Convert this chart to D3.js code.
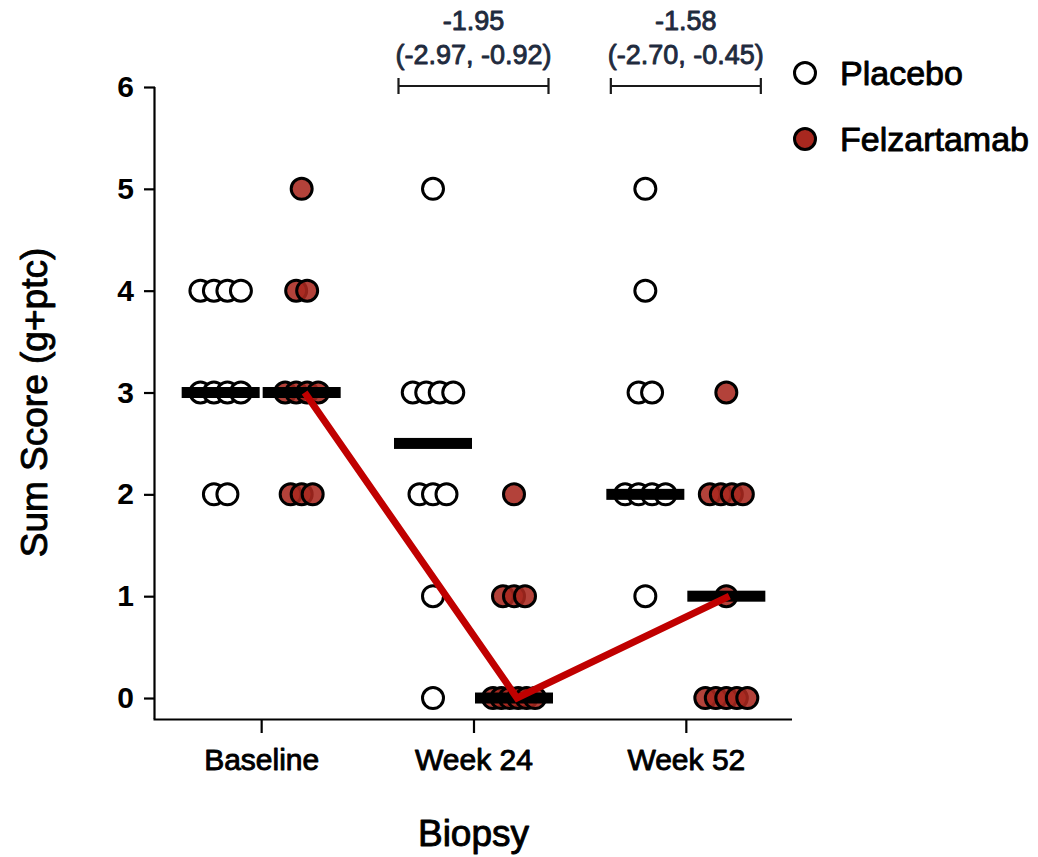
<!DOCTYPE html>
<html>
<head>
<meta charset="utf-8">
<script src="https://cdn.jsdelivr.net/npm/d3@7"></script>
<style>
  html, body { margin: 0; padding: 0; background: #fff; }
  svg { display: block; }
  text { font-family: "Liberation Sans", Arial, sans-serif; }
  text.heavy { paint-order: stroke; stroke-width: 0.9px; stroke-linejoin: round; }
</style>
</head>
<body>
<svg id="chart" width="1038" height="857"></svg>
<script>
// ---- data ----
const categories = ["Baseline", "Week 24", "Week 52"];
const groups = ["Placebo", "Felzartamab"];
const placeboBaseline = [4, 4, 4, 4, 3, 3, 3, 3, 2, 2];
const felzBaseline    = [5, 4, 4, 3, 3, 3, 3, 2, 2, 2];
const placeboWeek24   = [5, 3, 3, 3, 3, 2, 2, 2, 1, 0];
const felzWeek24      = [2, 1, 1, 1, 0, 0, 0, 0, 0, 0];
const placeboWeek52   = [5, 4, 3, 3, 2, 2, 2, 2, 1];
const felzWeek52      = [3, 2, 2, 2, 2, 1, 0, 0, 0, 0, 0];
const medianPlacebo   = [3, 2.5, 2];
const medianFelz      = [3, 0, 1];
const diffCategories  = ["Week 24", "Week 52"];
const diffEstimates   = ["-1.95", "-1.58"];
const diffIntervals   = ["(-2.97, -0.92)", "(-2.70, -0.45)"];
const yTicks          = [0, 1, 2, 3, 4, 5, 6];

const placeboSeries = [placeboBaseline, placeboWeek24, placeboWeek52];
const felzSeries    = [felzBaseline, felzWeek24, felzWeek52];

// ---- layout ----
const svg = d3.select("#chart");
const mLeft = 155, mRight = 792, mTop = 87, mBottom = 719;
const colorFelz = "#a8281f";
const colorLine = "#c00000";
const annColor = "#1f2b3e";

const x = d3.scalePoint().domain(categories).range([mLeft, mRight]).padding(0.5);
const y = d3.scaleLinear().domain([-0.206, 6]).range([mBottom, mTop]);
const groupOffset = d3.scalePoint().domain(groups).range([-40.5, 40.5]);

// axes
const yAxis = d3.axisLeft(y).tickValues(yTicks).tickFormat(d3.format("d")).tickSize(11).tickPadding(10);
const gy = svg.append("g").attr("transform", `translate(${mLeft},0)`).call(yAxis);
gy.select(".domain").attr("d", `M-0.5,${y(6)}V${mBottom}`).attr("stroke", "#000").attr("stroke-width", 2.2);
gy.selectAll(".tick line").attr("stroke", "#000").attr("stroke-width", 2.2);
gy.selectAll(".tick text").attr("font-size", 30).attr("fill", "#000").attr("font-weight", "bold");

const xAxis = d3.axisBottom(x).tickSize(14).tickPadding(16);
const gx = svg.append("g").attr("transform", `translate(0,${mBottom})`).call(xAxis);
gx.select(".domain").attr("d", `M${mLeft - 1.5},0.5H${mRight}`).attr("stroke", "#000").attr("stroke-width", 2.2);
gx.selectAll(".tick line").attr("stroke", "#000").attr("stroke-width", 2.2);
gx.selectAll(".tick text").attr("font-size", 30).attr("fill", "#000")
  .attr("class", "heavy").attr("stroke", "#000");

// axis titles
svg.append("text").attr("x", (mLeft + mRight) / 2).attr("y", 846)
  .attr("class", "heavy").attr("stroke", "#000")
  .attr("text-anchor", "middle").attr("font-size", 37).attr("fill", "#000").text("Biopsy");
svg.append("text").attr("transform", `translate(47,${(y(0) + y(6)) / 2 + 10}) rotate(-90)`)
  .attr("class", "heavy").attr("stroke", "#000")
  .attr("text-anchor", "middle").attr("font-size", 37).attr("fill", "#000").text("Sum Score (g+ptc)");

// dodge points horizontally within each value row
function dodge(values, spacingMax, spanMax) {
  const counts = d3.rollup(values, v => v.length, d => d);
  const seen = new Map();
  return values.map(v => {
    const n = counts.get(v);
    const i = seen.get(v) || 0;
    seen.set(v, i + 1);
    const s = n > 1 ? Math.min(spacingMax, spanMax / (n - 1)) : 0;
    return { v, dx: (i - (n - 1) / 2) * s };
  });
}

const pts = [];
categories.forEach((c, ci) => {
  dodge(placeboSeries[ci], 13.5, 42).forEach(p => pts.push({ cat: c, group: "Placebo", ...p }));
  dodge(felzSeries[ci], 11, 42).forEach(p => pts.push({ cat: c, group: "Felzartamab", ...p }));
});

svg.append("g").selectAll("circle").data(pts).join("circle")
  .attr("cx", d => x(d.cat) + groupOffset(d.group) + d.dx)
  .attr("cy", d => y(d.v))
  .attr("r", 10.5)
  .attr("fill", d => d.group === "Placebo" ? "#fff" : colorFelz)
  .attr("fill-opacity", d => d.group === "Placebo" ? 1 : 0.88)
  .attr("stroke", "#000")
  .attr("stroke-width", 3);

// median bars
const medians = [];
categories.forEach((c, ci) => {
  medians.push({ cat: c, group: "Placebo", v: medianPlacebo[ci] });
  medians.push({ cat: c, group: "Felzartamab", v: medianFelz[ci] });
});
svg.append("g").selectAll("rect").data(medians).join("rect")
  .attr("x", d => x(d.cat) + groupOffset(d.group) - 39)
  .attr("y", d => y(d.v) - 5.5)
  .attr("width", 78)
  .attr("height", 11)
  .attr("fill", "#000");

// felzartamab median line
const line = d3.line().x(d => x(d.cat) + groupOffset("Felzartamab") + 3).y(d => y(d.v));
svg.append("path")
  .datum(medians.filter(d => d.group === "Felzartamab"))
  .attr("d", line)
  .attr("fill", "none")
  .attr("stroke", colorLine)
  .attr("stroke-width", 7)
  .attr("stroke-linejoin", "miter");

// difference annotations
const ann = svg.append("g");
diffCategories.forEach((c, i) => {
  const cx = x(c);
  const yb = 86;
  const g = ann.append("g");
  g.append("path")
    .attr("d", `M${cx - 75},${yb}H${cx + 75}M${cx - 75},${yb - 8}V${yb + 8}M${cx + 75},${yb - 8}V${yb + 8}`)
    .attr("stroke", "#1a1a1a").attr("stroke-width", 2.2).attr("fill", "none");
  g.append("text").attr("x", cx).attr("y", 30).attr("text-anchor", "middle")
    .attr("class", "heavy").attr("stroke", annColor)
    .attr("font-size", 27).attr("fill", annColor).text(diffEstimates[i]);
  g.append("text").attr("x", cx).attr("y", 64).attr("text-anchor", "middle")
    .attr("class", "heavy").attr("stroke", annColor)
    .attr("font-size", 27).attr("fill", annColor).text(diffIntervals[i]);
});

// legend
const legend = svg.append("g").attr("transform", "translate(805,0)");
groups.forEach((gname, i) => {
  const ly = 73 + i * 66;
  legend.append("circle").attr("cx", 0).attr("cy", ly).attr("r", 10.5)
    .attr("fill", gname === "Placebo" ? "#fff" : colorFelz)
    .attr("stroke", "#000").attr("stroke-width", 3);
  legend.append("text").attr("x", 35).attr("y", ly + 12).attr("font-size", 34)
    .attr("class", "heavy").attr("stroke", "#000")
    .attr("fill", "#000").text(gname);
});
</script>
</body>
</html>
